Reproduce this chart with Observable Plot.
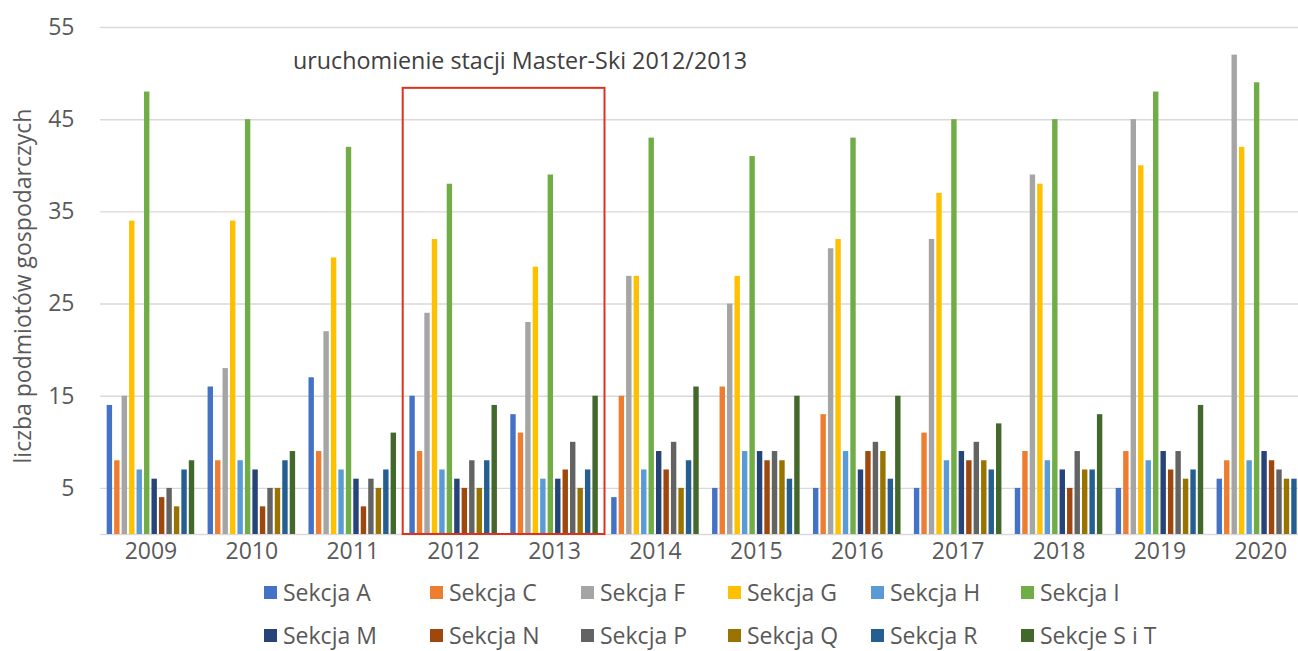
<!DOCTYPE html>
<html>
<head>
<meta charset="utf-8">
<script src="https://cdn.jsdelivr.net/npm/d3@7"></script>
<script src="https://cdn.jsdelivr.net/npm/@observablehq/plot@0.6"></script>
<style>
  html, body { margin: 0; padding: 0; background: #fff; overflow: hidden; width: 1298px; height: 651px; }
  #wrap { position: relative; width: 1298px; height: 651px; overflow: hidden; font-family: "Open Sans", sans-serif; color: #595959; }
  #chart { position: absolute; left: 0; top: 0; width: 1320px; }
  #chart svg { max-width: none !important; }
  .note { position: absolute; font-size: 23.3px; line-height: 26px; white-space: nowrap; color: #404040; }
  .ytitle { position: absolute; font-size: 23px; white-space: nowrap; transform: translate(-50%, -50%) rotate(-90deg); line-height: 26px; }
  .leg { position: absolute; display: flex; align-items: center; font-size: 23px; line-height: 22px; height: 22px; white-space: nowrap; }
  .sw { width: 13px; height: 13px; margin-right: 6px; }
</style>
</head>
<body>
<div id="wrap">
  <div id="chart"></div>
</div>
<script>
// ---- data ----
const years = ["2009","2010","2011","2012","2013","2014","2015","2016","2017","2018","2019","2020"];
const sections = ["Sekcja A","Sekcja C","Sekcja F","Sekcja G","Sekcja H","Sekcja I","Sekcja M","Sekcja N","Sekcja P","Sekcja Q","Sekcja R","Sekcje S i T"];
const colors = ["#4472C4","#ED7D31","#A5A5A5","#FFC000","#5B9BD5","#70AD47","#264478","#9E480E","#636363","#997300","#255E91","#43682B"];

const sekcjaA = [14,16,17,15,13,4,5,5,5,5,5,6];
const sekcjaC = [8,8,9,9,11,15,16,13,11,9,9,8];
const sekcjaF = [15,18,22,24,23,28,25,31,32,39,45,52];
const sekcjaG = [34,34,30,32,29,28,28,32,37,38,40,42];
const sekcjaH = [7,8,7,7,6,7,9,9,8,8,8,8];
const sekcjaI = [48,45,42,38,39,43,41,43,45,45,48,49];
const sekcjaM = [6,7,6,6,6,9,9,7,9,7,9,9];
const sekcjaN = [4,3,3,5,7,7,8,9,8,5,7,8];
const sekcjaP = [5,5,6,8,10,10,9,10,10,9,9,7];
const sekcjaQ = [3,5,5,5,5,5,8,9,8,7,6,6];
const sekcjaR = [7,8,7,8,7,8,6,6,7,7,7,6];
const sekcjeSiT = [8,9,11,14,15,16,15,15,12,13,14,14];

const yTicks = [5,15,25,35,45,55];
const yMax = 55;
const noteText = "uruchomienie stacji Master-Ski 2012/2013";
const yTitle = "liczba podmiotów gospodarczych";
const highlight = [{from: "2012", to: "2013", top: 48.4}];

// ---- build table ----
const series = [sekcjaA,sekcjaC,sekcjaF,sekcjaG,sekcjaH,sekcjaI,sekcjaM,sekcjaN,sekcjaP,sekcjaQ,sekcjaR,sekcjeSiT];
const table = [];
series.forEach((vals, si) => vals.forEach((v, yi) => table.push({year: years[yi], yi, section: sections[si], si, value: v})));

// layout within a year band (band = 1 unit)
const slot = 0.074, barW = 0.0535, start = 0.5 - slot * sections.length / 2 + (slot - barW) / 2;
const left = d => d.yi + start + d.si * slot;

const W = 1320;
const plot = Plot.plot({
  width: W,
  height: 575,
  marginLeft: 100,
  marginRight: W - (100 + 12 * 100.9),
  marginTop: 27,
  marginBottom: 41,
  style: {fontFamily: "Open Sans, sans-serif", fontSize: "23px", color: "#595959", background: "#fff", maxWidth: "none"},
  x: {type: "linear", domain: [0, years.length], axis: null},
  y: {domain: [0, yMax], axis: null},
  color: {domain: sections, range: colors},
  marks: [
    Plot.gridY(yTicks, {stroke: "#d9d9d9", strokeOpacity: 1, strokeWidth: 1.4}),
    Plot.ruleY([0], {stroke: "#d9d9d9", strokeWidth: 1.4}),
    Plot.rectY(table, {x1: left, x2: d => left(d) + barW, y1: 0, y2: "value", fill: "section", inset: 0}),
    Plot.rect(highlight, {x1: d => years.indexOf(d.from), x2: d => years.indexOf(d.to) + 1, y1: 0, y2: "top", fill: "none", stroke: "#e0301e", strokeWidth: 2}),
    Plot.axisY(yTicks, {tickSize: 0, tickPadding: 26, fontSize: 23, fill: "#595959", label: null}),
    Plot.axisX(years.map((d, i) => i + 0.5), {tickSize: 0, tickPadding: 8, fontSize: 23, fill: "#595959", tickFormat: d => years[Math.floor(d)], label: null})
  ]
});
plot.style.maxWidth = "none";
document.getElementById("chart").appendChild(plot);

const wrap = document.getElementById("wrap");
const note = document.createElement("div");
note.className = "note";
note.textContent = noteText;
note.style.left = "293px";
note.style.top = "47px";
wrap.appendChild(note);

const yt = document.createElement("div");
yt.className = "ytitle";
yt.textContent = yTitle;
yt.style.left = "22px";
yt.style.top = "286px";
wrap.appendChild(yt);

// legend: 2 rows x 6 columns
const legendX = [264, 430, 581, 728, 871, 1021];
const legendY = [581, 624];
sections.forEach((s, i) => {
  const row = Math.floor(i / 6), col = i % 6;
  const item = document.createElement("div");
  item.className = "leg";
  item.style.left = legendX[col] + "px";
  item.style.top = legendY[row] + "px";
  const sw = document.createElement("span");
  sw.className = "sw";
  sw.style.background = colors[i];
  item.appendChild(sw);
  const t = document.createElement("span");
  t.textContent = s;
  item.appendChild(t);
  wrap.appendChild(item);
});
</script>
</body>
</html>
